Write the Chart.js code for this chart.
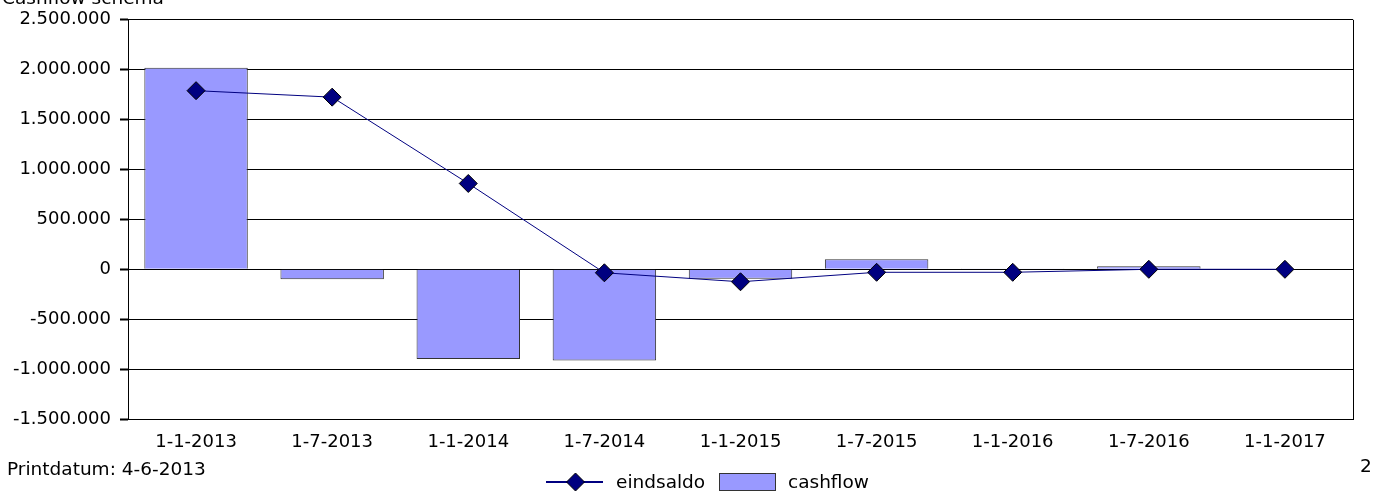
<!DOCTYPE html>
<html>
<head>
<meta charset="utf-8">
<script src="https://cdn.jsdelivr.net/npm/chart.js@4"></script>
<style>
  html, body { margin: 0; padding: 0; background: #fff; }
  #wrap { position: relative; width: 1376px; height: 493px; overflow: hidden; }
  canvas { position: absolute; left: 0; top: 0; }
  .txt { position: absolute; font-family: "DejaVu Sans", sans-serif; font-size: 18.5px; color: #000; white-space: nowrap; }
</style>
</head>
<body>
<div id="wrap">
  <canvas id="c" width="1376" height="493"></canvas>
  <div class="txt" style="left:2px; top:-13px;">Cashflow schema</div>
  <div class="txt" style="left:7px; top:458px;">Printdatum: 4-6-2013</div>
  <div class="txt" style="left:1360px; top:455px;">2</div>
</div>
<script>
const categories = ['1-1-2013','1-7-2013','1-1-2014','1-7-2014','1-1-2015','1-7-2015','1-1-2016','1-7-2016','1-1-2017'];
const cashflow  = [2020000, -100000, -900000, -915000, -95000, 100000, 3000, 30000, 0];
const eindsaldo = [1790000, 1725000, 860000, -35000, -125000, -30000, -30000, 0, 0];
const yTicks = [2500000, 2000000, 1500000, 1000000, 500000, 0, -500000, -1000000, -1500000];

function fmt(v) {
  const s = Math.abs(v).toString().replace(/\B(?=(\d{3})+(?!\d))/g, '.');
  return (v < 0 ? '-' : '') + s;
}

const FONT = '"DejaVu Sans", sans-serif';
const LINE_COLOR = '#000080';
const BAR_COLOR = '#9999ff';

const frame = {
  id: 'frame',
  afterDraw(chart) {
    const {ctx, chartArea: a} = chart;
    ctx.save();
    ctx.strokeStyle = '#000';
    ctx.lineWidth = 1;
    ctx.beginPath();
    ctx.moveTo(Math.round(a.right) + 0.5, a.top);
    ctx.lineTo(Math.round(a.right) + 0.5, a.bottom);
    ctx.stroke();
    ctx.restore();
  }
};

const legendPlugin = {
  id: 'customLegend',
  afterDraw(chart) {
    const ctx = chart.ctx;
    const ds = chart.data.datasets;
    ctx.save();
    ctx.font = '18.5px ' + FONT;
    ctx.textBaseline = 'middle';
    const cy = 482;
    // line + diamond for eindsaldo
    const line = ds[0];
    ctx.strokeStyle = line.borderColor;
    ctx.lineWidth = 2;
    ctx.beginPath(); ctx.moveTo(546, cy); ctx.lineTo(603, cy); ctx.stroke();
    ctx.beginPath();
    ctx.moveTo(575.5, cy - 9); ctx.lineTo(584.5, cy); ctx.lineTo(575.5, cy + 9); ctx.lineTo(566.5, cy); ctx.closePath();
    ctx.fillStyle = line.pointBackgroundColor; ctx.fill();
    ctx.lineWidth = 1; ctx.strokeStyle = '#000'; ctx.stroke();
    ctx.fillStyle = '#000';
    ctx.fillText(line.label, 616, cy + 1);
    // box for cashflow
    const bar = ds[1];
    ctx.fillStyle = bar.backgroundColor;
    ctx.fillRect(719, 473, 57, 17);
    ctx.strokeStyle = '#333';
    ctx.strokeRect(719.5, 473.5, 56, 17);
    ctx.fillStyle = '#000';
    ctx.fillText(bar.label, 788, cy + 1);
    ctx.restore();
  }
};

new Chart(document.getElementById('c'), {
  data: {
    labels: categories,
    datasets: [
      {
        type: 'line',
        label: 'eindsaldo',
        data: eindsaldo,
        borderColor: LINE_COLOR,
        borderWidth: 1,
        pointStyle: 'rectRot',
        pointRadius: 9,
        pointHoverRadius: 9,
        pointBackgroundColor: LINE_COLOR,
        pointBorderColor: '#000',
        pointBorderWidth: 1,
        tension: 0,
        order: 0
      },
      {
        type: 'bar',
        label: 'cashflow',
        data: cashflow,
        backgroundColor: BAR_COLOR,
        borderColor: '#333',
        borderWidth: 1,
        categoryPercentage: 1,
        barPercentage: 0.76,
        order: 1
      }
    ]
  },
  options: {
    responsive: false,
    animation: false,
    events: [],
    layout: { padding: { left: 0, right: 23, top: 17, bottom: 0 } },
    plugins: { legend: { display: false }, tooltip: { enabled: false } },
    scales: {
      x: {
        grid: { display: false, drawTicks: false },
        border: { display: true, color: '#000' },
        ticks: { color: '#000', font: { family: FONT, size: 18 }, padding: 13, maxRotation: 0, autoSkip: false },
        afterFit(s) { s.height = 74; }
      },
      y: {
        min: -1500000, max: 2500000,
        afterBuildTicks(s) { s.ticks = yTicks.map(v => ({ value: v })); },
        grid: { color: '#000', lineWidth: 1, tickLength: 8, drawTicks: true, tickColor: '#000', tickWidth: 2 },
        border: { display: true, color: '#000', width: 1 },
        ticks: { color: '#000', font: { family: FONT, size: 18 }, padding: 9, callback: v => fmt(v) },
        afterFit(s) { s.width = 128; }
      }
    }
  },
  plugins: [frame, legendPlugin]
});
</script>
</body>
</html>
